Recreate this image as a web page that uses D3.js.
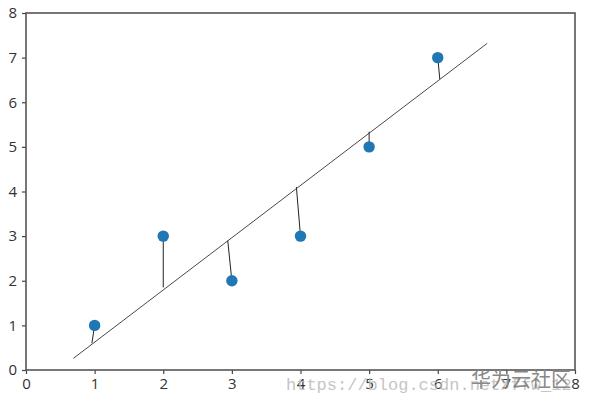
<!DOCTYPE html>
<html><head><meta charset="utf-8">
<script src="https://cdn.jsdelivr.net/npm/d3@7"></script>
<style>body{margin:0;background:#fff}svg{display:block}</style>
</head><body>
<script>
const xs = [1, 2, 3, 4, 5, 6];
const ys = [1, 3, 2, 3, 5, 7];
const footX = [0.96, 2.0, 2.94, 3.94, 5.0, 6.03];
const footY = [0.60, 1.85, 2.90, 4.10, 5.34, 6.52];
const lineX = [0.69, 6.72];
const lineY = [0.26, 7.32];
const xTicks = [0, 1, 2, 3, 4, 5, 6, 7, 8];
const yTicks = [0, 1, 2, 3, 4, 5, 6, 7, 8];

const W = 590, H = 404;
const m = {l: 26, r: 15, t: 13, b: 34};
const svg = d3.select("body").append("svg").attr("width", W).attr("height", H);
const x = d3.scaleLinear().domain([0, 8]).range([m.l, W - m.r]);
const y = d3.scaleLinear().domain([0, 8]).range([H - m.b, m.t]);

// residuals
svg.append("g").selectAll("line").data(xs).join("line")
  .attr("x1", (d, i) => x(d)).attr("y1", (d, i) => y(ys[i]))
  .attr("x2", (d, i) => x(footX[i])).attr("y2", (d, i) => y(footY[i]))
  .attr("stroke", "#222").attr("stroke-width", 1);

// regression line
svg.append("line")
  .attr("x1", x(lineX[0])).attr("y1", y(lineY[0]))
  .attr("x2", x(lineX[1])).attr("y2", y(lineY[1]))
  .attr("stroke", "#333").attr("stroke-width", 0.9);

// points
svg.append("g").selectAll("circle").data(xs).join("circle")
  .attr("cx", d => x(d)).attr("cy", (d, i) => y(ys[i])).attr("r", 5.7)
  .attr("fill", "#1f77b4");

// axes
const fmt = d3.format("d");
const gx = svg.append("g").attr("transform", `translate(0,${H - m.b})`)
  .call(d3.axisBottom(x).tickValues(xTicks).tickFormat(fmt).tickSize(4).tickPadding(4));
const gy = svg.append("g").attr("transform", `translate(${m.l},0)`)
  .call(d3.axisLeft(y).tickValues(yTicks).tickFormat(fmt).tickSize(4).tickPadding(5));
[gx, gy].forEach(g => {
  g.select(".domain").remove();
  g.selectAll("line").attr("stroke", "#444").attr("stroke-width", 1.2);
  g.selectAll("text").attr("fill", "#333").style("font-family", "Open Sans, DejaVu Sans, sans-serif").style("font-size", "15px");
});
svg.append("rect").attr("x", m.l).attr("y", m.t)
  .attr("width", W - m.l - m.r).attr("height", H - m.t - m.b)
  .attr("fill", "none").attr("stroke", "#555").attr("stroke-width", 1.6);

// watermarks
svg.append("text").attr("x", 286).attr("y", 390)
  .style("font-family", "Liberation Mono, monospace").style("font-size", "17px")
  .attr("fill", "#bbb").attr("opacity", 0.85).text("https://blog.csdn.net/ffw_12");
svg.append("text").attr("x", 471).attr("y", 387)
  .style("font-family", "Noto Sans CJK SC, sans-serif").style("font-size", "20px")
  .attr("fill", "#888").text("华为云社区");
</script>
</body></html>
